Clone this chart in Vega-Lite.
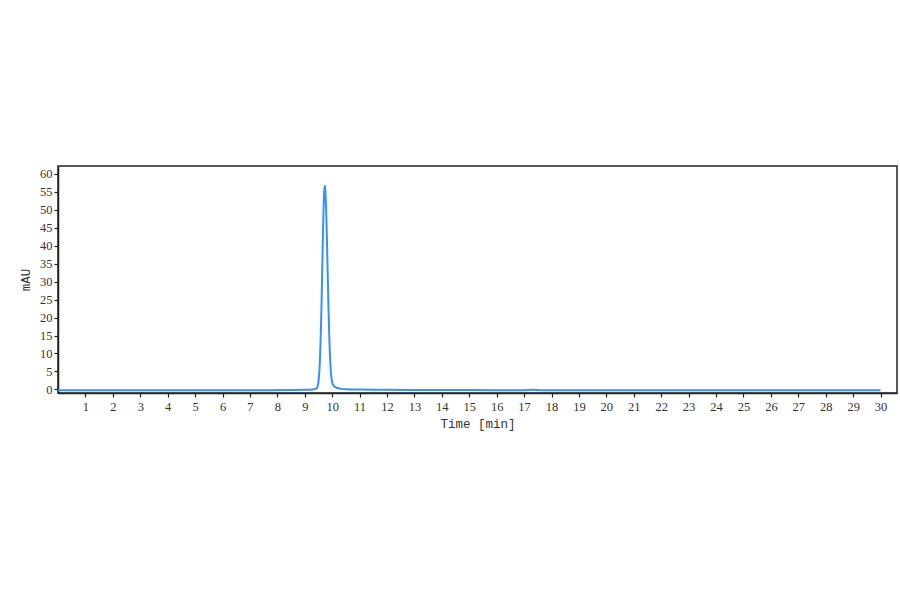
{
  "$schema": "https://vega.github.io/schema/vega-lite/v6.json",
  "autosize": "none",
  "width": 839,
  "height": 227,
  "padding": {"left": 58, "top": 166, "right": 3, "bottom": 201},
  "background": "white",
  "config": {
    "view": {"stroke": "#222222", "strokeWidth": 1.5},
    "axis": {
      "labelFont": "Liberation Serif",
      "titleFont": "Liberation Mono",
      "labelFontSize": 12.5,
      "titleFontSize": 12.5,
      "titleFontWeight": "normal",
      "labelColor": "#333333",
      "titleColor": "#333333",
      "domainColor": "#222222",
      "domainWidth": 1.5,
      "tickColor": "#222222",
      "tickWidth": 1.2,
      "tickSize": 4,
      "grid": false
    }
  },
  "data": {
    "values": [
      {"t": 0.0, "mau": -0.25},
      {"t": 1.0, "mau": -0.25},
      {"t": 2.0, "mau": -0.25},
      {"t": 3.0, "mau": -0.25},
      {"t": 4.0, "mau": -0.25},
      {"t": 5.0, "mau": -0.25},
      {"t": 6.0, "mau": -0.25},
      {"t": 7.0, "mau": -0.25},
      {"t": 7.8, "mau": -0.2},
      {"t": 8.5, "mau": -0.15},
      {"t": 9.0, "mau": -0.1},
      {"t": 9.3, "mau": 0.0},
      {"t": 9.4, "mau": 0.2},
      {"t": 9.45, "mau": 0.45},
      {"t": 9.47, "mau": 0.87},
      {"t": 9.49, "mau": 1.6},
      {"t": 9.51, "mau": 2.85},
      {"t": 9.53, "mau": 4.8},
      {"t": 9.55, "mau": 7.7},
      {"t": 9.57, "mau": 11.7},
      {"t": 9.59, "mau": 16.9},
      {"t": 9.61, "mau": 23.3},
      {"t": 9.63, "mau": 30.6},
      {"t": 9.65, "mau": 38.2},
      {"t": 9.67, "mau": 45.4},
      {"t": 9.69, "mau": 51.4},
      {"t": 9.71, "mau": 55.3},
      {"t": 9.73, "mau": 56.7},
      {"t": 9.75, "mau": 55.6},
      {"t": 9.77, "mau": 52.3},
      {"t": 9.79, "mau": 47.4},
      {"t": 9.81, "mau": 41.2},
      {"t": 9.83, "mau": 34.4},
      {"t": 9.85, "mau": 27.6},
      {"t": 9.87, "mau": 21.3},
      {"t": 9.89, "mau": 15.8},
      {"t": 9.91, "mau": 11.2},
      {"t": 9.93, "mau": 7.7},
      {"t": 9.95, "mau": 5.0},
      {"t": 9.97, "mau": 3.5},
      {"t": 9.99, "mau": 2.4},
      {"t": 10.01, "mau": 1.7},
      {"t": 10.03, "mau": 1.2},
      {"t": 10.08, "mau": 0.8},
      {"t": 10.13, "mau": 0.55},
      {"t": 10.23, "mau": 0.3},
      {"t": 10.33, "mau": 0.15},
      {"t": 10.5, "mau": 0.05},
      {"t": 11.0, "mau": -0.05},
      {"t": 12.0, "mau": -0.1},
      {"t": 13.0, "mau": -0.15},
      {"t": 14.0, "mau": -0.15},
      {"t": 15.0, "mau": -0.15},
      {"t": 16.0, "mau": -0.2},
      {"t": 17.0, "mau": -0.2},
      {"t": 17.3, "mau": -0.12},
      {"t": 17.6, "mau": -0.2},
      {"t": 18.0, "mau": -0.25},
      {"t": 19.0, "mau": -0.25},
      {"t": 20.0, "mau": -0.25},
      {"t": 21.0, "mau": -0.25},
      {"t": 22.0, "mau": -0.25},
      {"t": 23.0, "mau": -0.25},
      {"t": 24.0, "mau": -0.25},
      {"t": 25.0, "mau": -0.25},
      {"t": 26.0, "mau": -0.25},
      {"t": 27.0, "mau": -0.25},
      {"t": 28.0, "mau": -0.25},
      {"t": 29.0, "mau": -0.25},
      {"t": 30.0, "mau": -0.25}
    ]
  },
  "mark": {"type": "line", "color": "#3592f5", "strokeWidth": 2, "interpolate": "monotone"},
  "encoding": {
    "x": {
      "field": "t",
      "type": "quantitative",
      "title": "Time [min]",
      "scale": {"domain": [0, 30.6], "nice": false, "zero": false},
      "axis": {"values": [1,2,3,4,5,6,7,8,9,10,11,12,13,14,15,16,17,18,19,20,21,22,23,24,25,26,27,28,29,30], "labelPadding": 3, "titlePadding": 5, "labelFlush": false}
    },
    "y": {
      "field": "mau",
      "type": "quantitative",
      "title": "mAU",
      "scale": {"domain": [-1, 62.2], "nice": false, "zero": false},
      "axis": {"values": [0,5,10,15,20,25,30,35,40,45,50,55,60], "labelPadding": 2, "titlePadding": 7}
    }
  }
}
